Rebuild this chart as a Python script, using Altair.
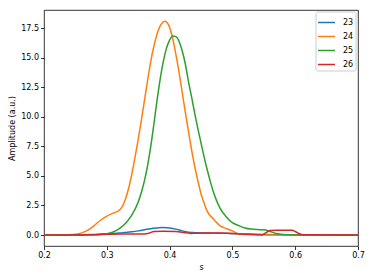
import altair as alt
import pandas as pd

s23 = [0.20, 0.26, 0.28, 0.30, 0.32, 0.34, 0.35, 0.36, 0.37, 0.38, 0.39, 0.40, 0.41, 0.42, 0.43, 0.44, 0.45, 0.47, 0.50, 0.52, 0.55, 0.58, 0.60, 0.70]
a23 = [0.0, 0.01, 0.05, 0.10, 0.17, 0.27, 0.35, 0.45, 0.54, 0.60, 0.64, 0.60, 0.50, 0.35, 0.24, 0.20, 0.18, 0.16, 0.12, 0.08, 0.04, 0.02, 0.01, 0.0]

s24 = [0.20, 0.24, 0.25, 0.26, 0.27, 0.28, 0.29, 0.30, 0.31, 0.32, 0.325, 0.33, 0.335, 0.34, 0.345, 0.35,
       0.355, 0.36, 0.365, 0.37, 0.375, 0.38, 0.385, 0.39, 0.393, 0.395, 0.40, 0.405, 0.41, 0.415, 0.42,
       0.425, 0.43, 0.435, 0.44, 0.445, 0.45, 0.455, 0.46, 0.47, 0.475, 0.48, 0.49, 0.50, 0.505, 0.51, 0.52, 0.55, 0.70]
a24 = [0.0, 0.02, 0.06, 0.18, 0.42, 0.80, 1.25, 1.60, 1.85, 2.10, 2.45, 3.10, 4.00, 5.20, 6.60, 8.10,
       9.70, 11.4, 13.1, 14.7, 16.0, 17.0, 17.7, 18.05, 18.1, 18.05, 17.6, 16.6, 15.3, 13.8, 12.1,
       10.4, 8.8, 7.2, 5.8, 4.6, 3.5, 2.7, 2.0, 1.35, 1.05, 0.80, 0.55, 0.35, 0.20, 0.10, 0.04, 0.01, 0.0]

s25 = [0.20, 0.28, 0.29, 0.30, 0.31, 0.32, 0.33, 0.34, 0.35, 0.355, 0.36, 0.365, 0.37, 0.375, 0.38, 0.385,
       0.39, 0.395, 0.40, 0.405, 0.41, 0.415, 0.42, 0.425, 0.43, 0.435, 0.44, 0.445, 0.45, 0.455, 0.46,
       0.465, 0.47, 0.48, 0.49, 0.50, 0.51, 0.52, 0.53, 0.54, 0.55, 0.56, 0.57, 0.58, 0.60, 0.70]
a25 = [0.0, 0.02, 0.05, 0.10, 0.25, 0.55, 1.00, 1.70, 2.80, 3.60, 4.60, 5.90, 7.50, 9.40, 11.4, 13.2,
       14.7, 15.8, 16.5, 16.85, 16.8, 16.4, 15.6, 14.5, 13.0, 11.7, 10.3, 9.0, 7.8, 6.6, 5.5,
       4.5, 3.6, 2.3, 1.55, 1.05, 0.80, 0.60, 0.50, 0.46, 0.44, 0.30, 0.12, 0.04, 0.0, 0.0]

s26 = [0.20, 0.28, 0.30, 0.32, 0.36, 0.365, 0.37, 0.375, 0.39, 0.41, 0.42, 0.43, 0.435, 0.44, 0.45, 0.48,
       0.50, 0.52, 0.54, 0.548, 0.555, 0.56, 0.57, 0.595, 0.60, 0.605, 0.61, 0.62, 0.70]
a26 = [0.0, 0.02, 0.06, 0.08, 0.08, 0.12, 0.22, 0.30, 0.32, 0.30, 0.24, 0.17, 0.13, 0.15, 0.18, 0.17,
       0.12, 0.07, 0.03, 0.03, 0.25, 0.38, 0.40, 0.40, 0.30, 0.15, 0.05, 0.02, 0.0]

series = [("23", s23, a23), ("24", s24, a24), ("25", s25, a25), ("26", s26, a26)]
rows = []
for name, xs, ys in series:
    for i, (x, y) in enumerate(zip(xs, ys)):
        rows.append({"s": x, "amp": y, "series": name, "order": i})
df = pd.DataFrame(rows)

colors = ["#1f77b4", "#ff7f0e", "#2ca02c", "#d62728"]
font = "DejaVu Sans"

chart = alt.Chart(df).mark_line(strokeWidth=1.5, interpolate="monotone", clip=True).encode(
    x=alt.X("s:Q", title="s",
            scale=alt.Scale(domain=[0.2, 0.7], nice=False, zero=False),
            axis=alt.Axis(values=[0.2, 0.3, 0.4, 0.5, 0.6, 0.7], format=".1f", labelFlush=False)),
    y=alt.Y("amp:Q", title="Amplitude (a.u.)",
            scale=alt.Scale(domain=[-0.93, 19.05], nice=False, zero=False),
            axis=alt.Axis(values=[0, 2.5, 5, 7.5, 10, 12.5, 15, 17.5], format=".1f", labelFlush=False)),
    color=alt.Color("series:N", scale=alt.Scale(domain=["23", "24", "25", "26"], range=colors),
                    legend=alt.Legend(title=None, orient="none", legendX=271.5, legendY=1.5,
                                      symbolType="stroke", symbolSize=289, symbolStrokeWidth=1.5,
                                      labelFontSize=8, labelFont=font, labelColor="black",
                                      rowPadding=-5, padding=1.5, labelOffset=7,
                                      strokeColor="#cccccc", fillColor="white", cornerRadius=2)),
    order="order:Q",
).properties(
    width=314, height=236,
    autosize="none",
    padding={"left": 36, "top": 2, "right": 8, "bottom": 26},
).configure_view(
    stroke="black", strokeWidth=0.8
).configure_axis(
    grid=False, domain=False, tickColor="black", tickSize=3.5, tickWidth=0.8,
    labelFont=font, labelFontSize=8, labelColor="black", labelPadding=2,
    titleFont=font, titleFontSize=8, titleColor="black", titleFontWeight="normal",
)

chart.save("out.html", embed_options={"renderer": "svg", "actions": False})
